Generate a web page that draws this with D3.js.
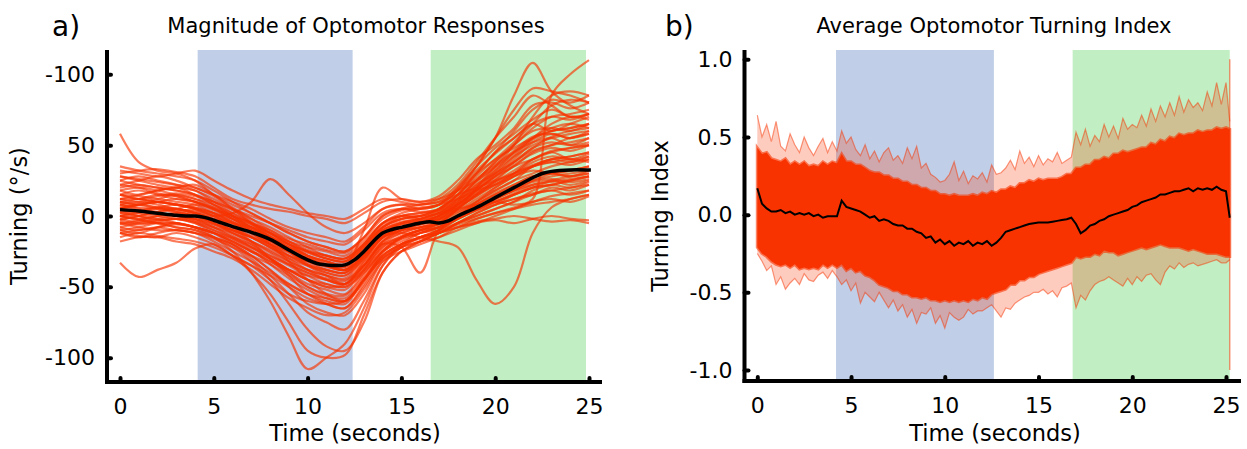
<!DOCTYPE html>
<html>
<head>
<meta charset="utf-8">
<script src="https://cdn.jsdelivr.net/npm/d3@7"></script>
<style>
  body { margin: 0; background: #fff; }
  text { font-family: "DejaVu Sans", sans-serif; }
</style>
</head>
<body>
<svg id="chart" width="1247" height="449"></svg>
<script>
// ---- shared ----
const timeTicks = [0, 5, 10, 15, 20, 25];
const stimulusColors = ["#c0cfe7", "#c1efc3"];   // rotation (blue), translation (green)

// ---- panel a: magnitude of optomotor responses (deg/s), sampled every second ----
const secondsA = [0,1,2,3,4,5,6,7,8,9,10,11,12,13,14,15,16,17,18,19,20,21,22,23,24,25];
const stimulusA = [[4.14, 12.4], [16.56, 24.84]];
const yTicksA = [100, 50, 0, -50, -100];
const yTickLabelsA = ["-100", "50", "0", "-50", "-100"];

const tracesA = [
  [30,32,33,31,28,20,12,8,5,3,0,-2,-5,2,10,12,10,14,25,40,50,62,78,80,76,80],
  [10,12,15,14,10,5,-2,-10,-18,-25,-30,-35,-38,-28,-15,-10,-8,-5,5,20,35,50,70,85,88,85],
  [-12,-14,-15,-12,-15,-20,-28,-40,-55,-75,-95,-100,-98,-70,-40,-25,-18,-12,-5,0,5,10,18,22,20,24],
  [5,3,2,0,-2,-8,-15,-22,-30,-38,-45,-50,-52,-38,-20,-12,-8,-5,2,10,18,25,35,40,38,42],
  [20,22,20,18,15,10,5,0,-5,-10,-15,-18,-20,-10,2,5,3,5,15,28,40,48,55,60,62,65],
  [-5,-8,-10,-10,-12,-18,-25,-32,-40,-48,-55,-60,-62,-45,-28,-20,-15,-10,-2,5,10,15,20,22,25,28],
  [15,14,12,10,8,2,-5,-12,-20,-28,-35,-40,-42,-30,-15,-8,-5,0,10,22,32,42,50,55,58,60],
  [0,2,5,3,0,-5,-12,-18,-25,-32,-38,-42,-45,-35,-20,-15,-10,-8,-2,5,12,18,22,25,22,25],
  [58,38,32,30,25,15,8,2,-5,-12,-18,-22,-25,-15,0,5,5,8,20,35,55,75,90,88,85,80],
  [-33,-43,-38,-33,-23,-20,-28,-35,-45,-55,-60,-62,-60,-45,-30,-22,-18,-15,-8,-5,0,5,10,12,10,14],
  [8,10,8,5,3,0,2,10,26,15,2,-8,-12,-5,5,8,8,10,15,20,25,30,35,38,36,40],
  [2,0,-2,-5,-8,-15,-25,-40,-60,-85,-108,-100,-90,-65,-35,-20,-15,-10,0,8,15,20,25,28,30,32],
  [25,28,25,22,18,12,5,-2,-8,-15,-22,-28,-30,-20,-5,0,0,2,12,25,38,50,62,70,72,75],
  [-10,-12,-8,-5,-8,-12,-18,-25,-32,-40,-48,-52,-55,-40,-25,-18,-12,-10,-5,0,5,10,15,18,15,18],
  [12,10,12,15,12,8,0,-8,-15,-22,-30,-35,-38,-25,-10,-5,-3,0,8,18,28,38,48,52,50,55],
  [-2,-5,-5,-8,-10,-15,-20,-28,-38,-50,-62,-68,-70,-55,-32,-22,-15,-12,-5,2,8,12,15,20,18,22],
  [32,30,28,30,32,25,18,12,8,5,2,0,-2,5,12,10,8,12,22,38,55,70,85,78,70,72],
  [5,8,10,8,5,0,-8,-18,-30,-42,-55,-62,-65,-50,-30,-20,-12,-8,0,10,20,28,35,40,42,45],
  [0,-2,0,2,0,-5,-10,-15,-22,-30,-35,-38,-40,-28,-15,-12,-15,-18,-22,-45,-62,-50,-12,6,12,15],
  [15,12,10,8,5,0,-5,-10,-15,-20,-25,-28,-30,-20,-8,-2,0,5,18,35,55,85,108,88,78,72],
  [10,8,6,5,2,-3,-8,-15,-22,-28,-32,-35,-36,-25,-10,-5,-2,2,5,8,10,8,12,85,100,110],
  [-15,-12,-14,-16,-18,-22,-28,-35,-42,-50,-58,-62,-65,-48,-28,-20,-15,-12,-8,-4,-2,0,-2,-4,-3,-5],
  [18,15,18,20,22,15,5,-5,-15,-25,-35,-42,-48,-35,-18,-10,-5,-2,8,20,32,45,55,65,70,68],
  [-8,-5,-3,-2,-5,-10,-15,-20,-28,-35,-42,-48,-50,-40,-25,-15,-10,-5,5,15,25,35,40,45,48,50],
  [22,25,28,25,20,15,10,5,-2,-8,-12,-15,-18,-8,5,8,5,8,18,30,45,55,65,60,65,70],
  [3,0,-3,-2,-5,-12,-20,-30,-42,-55,-68,-75,-80,-60,-35,-22,-15,-10,-2,5,12,18,25,30,32,35],
  [28,25,22,20,18,10,2,-5,-12,-20,-28,-32,-35,-22,-8,0,2,5,15,30,45,60,75,82,80,85],
  [-12,-15,-12,-10,-12,-15,-20,-28,-38,-48,-55,-58,-60,-45,-30,-22,-18,-12,-8,-2,2,5,8,10,12,15],
  [8,5,3,5,8,5,-2,-10,-20,-32,-45,-55,-60,-45,-25,-15,-10,-5,5,15,22,30,40,45,40,42],
  [0,-3,-5,-8,-10,-15,-22,-32,-45,-62,-80,-92,-95,-75,-40,-25,-18,-12,-5,2,8,15,20,25,28,30],
  [35,32,30,28,25,18,10,2,-5,-12,-18,-22,-25,-15,0,5,8,10,20,35,48,58,68,75,70,72],
  [-5,-3,0,2,0,-5,-10,-15,-20,-25,-30,-35,-38,-28,-15,-10,-8,-3,3,10,18,25,30,35,38,40],
  [15,18,15,12,10,5,0,-5,-10,-18,-25,-30,-32,-20,-5,0,-2,2,10,22,30,40,52,58,55,60],
  [-18,-15,-15,-18,-20,-25,-30,-38,-48,-58,-65,-70,-68,-52,-32,-25,-20,-15,-10,-5,-3,-5,-2,0,-2,-3],
  [6,4,2,0,-2,-6,-10,-15,-22,-30,-38,-45,-48,-32,-15,-8,-5,0,8,18,28,35,45,50,55,58],
  [12,15,18,20,15,8,2,-5,-12,-20,-25,-30,-32,-22,-8,-2,0,5,15,30,40,52,65,78,82,80],
  [25,22,20,18,15,8,0,-8,-15,-25,-32,-38,-40,-28,-12,-5,-2,3,12,25,38,50,60,62,60,65],
  [-3,0,3,5,2,-2,-5,-8,-12,-18,-22,-25,-28,-18,-5,2,5,8,12,18,22,28,32,30,28,30],
  [5,8,10,8,5,2,-2,-8,-15,-22,-28,-32,-35,-10,20,12,10,12,18,25,35,45,52,55,50,52],
  [0,-2,-5,-5,-8,-12,-18,-25,-32,-38,-42,-45,-48,-38,-22,-15,-10,-8,0,8,15,22,28,30,32,35],
  [-10,-8,-5,-5,-8,-12,-18,-25,-30,-38,-45,-50,-48,-35,-20,-22,-40,-10,0,5,10,15,20,22,25,28],
  [8,6,5,3,2,-2,-8,-14,-20,-26,-32,-36,-38,-28,-12,-6,-4,-2,6,14,22,30,38,42,40,44],
  [-6,-4,-2,0,-3,-8,-14,-22,-30,-38,-45,-48,-50,-38,-22,-14,-10,-6,0,8,16,22,28,30,28,32],
  [18,20,18,15,12,6,0,-6,-12,-18,-24,-28,-30,-20,-6,0,2,4,12,24,34,44,55,62,65,62],
  [2,4,6,5,2,-3,-10,-18,-26,-34,-40,-45,-48,-36,-18,-10,-6,-3,4,12,20,28,35,38,40,38],
  [-2,0,2,0,-4,-10,-16,-24,-34,-44,-52,-58,-60,-46,-26,-16,-12,-8,-2,4,10,16,22,24,26,28],
  [12,12,10,8,6,2,-4,-10,-16,-22,-28,-32,-34,-24,-10,-4,-2,2,10,20,30,38,46,50,52,55],
  [-8,-10,-8,-6,-8,-12,-16,-22,-28,-34,-40,-44,-46,-34,-18,-12,-8,-6,0,6,12,18,24,26,24,26],
  [22,20,16,14,10,4,-2,-8,-14,-20,-26,-30,-32,-22,-8,-2,0,4,14,26,36,46,56,58,55,58],
  [4,2,0,-2,-4,-8,-12,-18,-24,-32,-38,-42,-44,-32,-16,-10,-6,-2,6,14,24,32,40,46,48,50],
  [-4,-6,-4,-2,-2,-6,-12,-20,-30,-40,-50,-55,-56,-42,-24,-16,-12,-8,-2,4,8,12,16,18,20,22],
  [10,8,10,12,10,6,0,-6,-14,-24,-34,-40,-42,-30,-14,-8,-6,-2,6,16,26,36,44,48,46,50],
  [0,3,6,8,6,2,-4,-12,-20,-28,-34,-38,-40,-30,-15,-8,-5,0,8,18,28,38,48,56,60,62],
  [28,26,24,22,20,14,6,-2,-10,-16,-20,-24,-26,-16,-2,4,6,8,18,32,44,55,65,70,68,72],
  [-12,-10,-8,-10,-12,-16,-22,-28,-34,-42,-50,-56,-58,-44,-28,-20,-16,-12,-6,-2,2,6,10,14,16,18],
  [6,8,6,4,4,0,-6,-12,-18,-24,-30,-34,-36,-26,-12,-6,-4,0,8,16,24,30,36,40,42,45],
  [15,12,14,16,14,10,4,-4,-12,-20,-28,-34,-38,-28,-14,-8,-4,0,8,18,30,42,54,60,62,65]
];

const meanTimesA = [0,1,2,3,3.5,4,4.5,5,6,7,8,9,10,10.5,11,11.5,12,12.5,13,13.5,14,14.5,15,16,16.5,17,17.5,18,19,20,21,22,22.5,23,24,25,25.1];
const meanValuesA = [4.5,3.5,2,0.5,0,0,-1,-3,-7.5,-11.5,-16.5,-24,-31,-33.5,-34.5,-35,-34.5,-31,-25,-18,-12,-9.5,-8,-5,-4,-5,-3.5,0,6,13,20,27,30,31.5,32.5,32.5,32.5];

// ---- panel b: average optomotor turning index, sampled every 0.25 s (last sample 25.2 s) ----
const timesB = d3.range(0, 25.001, 0.25).concat([25.2]);
const stimulusB = [[4.2, 12.62], [16.82, 25.2]];
const yTicksB = [1, 0.5, 0, -0.5, -1];
const yTickLabelsB = ["1.0", "0.5", "0.0", "-0.5", "-1.0"];

// outer (sparse) envelope of the per-fly traces
const faintTopB = [
  0.64,0.50,0.58,0.47, 0.60,0.44,0.41,0.52, 0.45,0.40,0.50,0.43, 0.38,0.44,0.49,0.40,
  0.47,0.41,0.54,0.46, 0.50,0.42,0.38,0.45, 0.36,0.41,0.34,0.40, 0.43,0.35,0.38,0.33,
  0.43,0.36,0.44,0.30, 0.33,0.26,0.24,0.21, 0.22,0.26,0.34,0.22, 0.28,0.20,0.25,0.23,
  0.27,0.21,0.32,0.26, 0.27,0.30,0.35,0.29, 0.41,0.33,0.37,0.31, 0.38,0.32,0.36,0.34,
  0.40,0.33,0.35,0.37, 0.53,0.45,0.55,0.44, 0.51,0.47,0.58,0.50, 0.57,0.49,0.62,0.55,
  0.58,0.56,0.64,0.57, 0.68,0.60,0.70,0.63, 0.72,0.64,0.76,0.66, 0.74,0.69,0.72,0.67,
  0.79,0.70,0.85,0.71, 0.85,0.60
];
const faintBottomB = [
  -0.25,-0.30,-0.36,-0.33, -0.45,-0.40,-0.48,-0.44, -0.41,-0.45,-0.38,-0.42, -0.43,-0.39,-0.37,-0.41,
  -0.36,-0.40,-0.45,-0.42, -0.49,-0.44,-0.57,-0.50, -0.53,-0.56,-0.50,-0.55, -0.60,-0.55,-0.62,-0.58,
  -0.66,-0.61,-0.70,-0.63, -0.64,-0.60,-0.70,-0.65, -0.73,-0.63,-0.66,-0.68, -0.66,-0.61,-0.64,-0.62,
  -0.62,-0.60,-0.58,-0.62, -0.66,-0.60,-0.61,-0.57, -0.55,-0.53,-0.52,-0.50, -0.50,-0.48,-0.51,-0.49,
  -0.53,-0.47,-0.46,-0.44, -0.60,-0.52,-0.55,-0.49, -0.45,-0.43,-0.42,-0.40, -0.42,-0.44,-0.46,-0.41,
  -0.45,-0.40,-0.43,-0.39, -0.38,-0.42,-0.45,-0.37, -0.33,-0.35,-0.31,-0.34, -0.32,-0.31,-0.33,-0.32,
  -0.31,-0.30,-0.29,-0.31, -0.31,-0.29
];
// dense core where the traces overlap
const coreTopB = [
  0.43,0.39,0.40,0.36, 0.35,0.34,0.36,0.32, 0.34,0.32,0.34,0.31, 0.32,0.31,0.34,0.32,
  0.34,0.33,0.39,0.34, 0.34,0.32,0.32,0.30, 0.28,0.27,0.27,0.25, 0.25,0.23,0.23,0.21,
  0.21,0.19,0.19,0.17, 0.17,0.15,0.15,0.13, 0.13,0.12,0.13,0.12, 0.12,0.12,0.13,0.12,
  0.14,0.13,0.15,0.14, 0.16,0.16,0.18,0.17, 0.20,0.20,0.22,0.21, 0.23,0.22,0.23,0.23,
  0.23,0.24,0.26,0.26, 0.30,0.30,0.32,0.32, 0.35,0.35,0.37,0.36, 0.39,0.39,0.41,0.40,
  0.41,0.42,0.43,0.43, 0.46,0.45,0.48,0.47, 0.50,0.49,0.52,0.51, 0.52,0.52,0.54,0.53,
  0.54,0.54,0.56,0.55, 0.56,0.55
];
const coreBottomB = [
  -0.21,-0.25,-0.27,-0.30, -0.32,-0.33,-0.32,-0.34, -0.32,-0.35,-0.34,-0.35, -0.34,-0.35,-0.32,-0.34,
  -0.32,-0.34,-0.32,-0.36, -0.34,-0.37,-0.36,-0.39, -0.40,-0.42,-0.45,-0.46, -0.47,-0.49,-0.49,-0.51,
  -0.51,-0.53,-0.53,-0.54, -0.53,-0.55,-0.55,-0.56, -0.55,-0.56,-0.55,-0.56, -0.55,-0.56,-0.54,-0.55,
  -0.53,-0.54,-0.51,-0.50, -0.49,-0.48,-0.45,-0.45, -0.42,-0.42,-0.40,-0.40, -0.38,-0.37,-0.36,-0.35,
  -0.34,-0.33,-0.32,-0.31, -0.27,-0.28,-0.27,-0.27, -0.25,-0.26,-0.23,-0.24, -0.24,-0.26,-0.25,-0.24,
  -0.23,-0.22,-0.21,-0.22, -0.21,-0.20,-0.19,-0.20, -0.21,-0.21,-0.21,-0.22, -0.23,-0.22,-0.23,-0.24,
  -0.25,-0.25,-0.25,-0.26, -0.27,-0.27
];
const meanB = [
  0.17,0.07,0.04,0.02, 0.02,0.03,0.01,0.02, 0.00,0.01,0.00,0.01, -0.01,0.00,-0.02,-0.01,
  -0.01,-0.01,0.09,0.05, 0.04,0.03,0.02,0.00, -0.02,-0.01,-0.04,-0.03, -0.04,-0.06,-0.07,-0.07,
  -0.09,-0.09,-0.11,-0.12, -0.15,-0.14,-0.18,-0.16, -0.19,-0.17,-0.20,-0.18, -0.19,-0.17,-0.20,-0.18,
  -0.19,-0.17,-0.20,-0.18, -0.15,-0.11,-0.10,-0.09, -0.08,-0.07,-0.06,-0.055, -0.05,-0.05,-0.05,-0.045,
  -0.04,-0.035,-0.03,-0.02, -0.06,-0.12,-0.10,-0.07, -0.06,-0.04,-0.03,-0.01, 0.00,0.01,0.02,0.03,
  0.05,0.06,0.08,0.09, 0.10,0.11,0.13,0.13, 0.14,0.15,0.15,0.16, 0.17,0.15,0.17,0.16,
  0.17,0.16,0.18,0.16, 0.15,-0.02
];
// one trace ends with a full-range jump at the last sample
const endJumpTimeB = 25.2;
const endJumpValuesB = [1.0, -1.0];

// ---- drawing ----
const svg = d3.select("#chart");
const red = "#f83300";

const geoA = { xr: [120, 589], yr: [357.7, 74.3], axisX: 107, axisY: 382, top: 50, right: 602 };
const geoB = { xr: [757.3, 1226], yr: [370, 59.3], axisX: 744.5, axisY: 381, top: 50, right: 1241 };

const xA = d3.scaleLinear().domain([0, 25]).range(geoA.xr);
const yA = d3.scaleLinear().domain([-100, 100]).range(geoA.yr);
const xB = d3.scaleLinear().domain([0, 25]).range(geoB.xr);
const yB = d3.scaleLinear().domain([-1, 1]).range(geoB.yr);

function drawStimuli(g, x, geo, stim) {
  g.selectAll("rect.stim").data(stim).join("rect")
    .attr("class", "stim")
    .attr("x", d => x(d[0]))
    .attr("width", d => x(d[1]) - x(d[0]))
    .attr("y", geo.top)
    .attr("height", geo.axisY - geo.top)
    .attr("fill", (d, i) => stimulusColors[i]);
}

function drawAxes(g, x, y, geo, yTicks, yLabels) {
  g.append("line")
    .attr("x1", geo.axisX).attr("x2", geo.axisX)
    .attr("y1", geo.top).attr("y2", geo.axisY + 2)
    .attr("stroke", "#000").attr("stroke-width", 4);
  g.append("line")
    .attr("x1", geo.axisX - 2).attr("x2", geo.right)
    .attr("y1", geo.axisY).attr("y2", geo.axisY)
    .attr("stroke", "#000").attr("stroke-width", 4);

  const ya = g.append("g")
    .attr("transform", `translate(${geo.axisX},0)`)
    .call(d3.axisLeft(y).tickValues(yTicks).tickFormat((d, i) => yLabels[i]).tickSize(-4).tickPadding(12));
  const xa = g.append("g")
    .attr("transform", `translate(0,${geo.axisY})`)
    .call(d3.axisBottom(x).tickValues(timeTicks).tickSize(-4).tickPadding(16));

  [ya, xa].forEach(a => {
    a.select(".domain").remove();
    a.attr("font-size", 22).attr("font-family", "DejaVu Sans, sans-serif");
    a.selectAll(".tick line").attr("stroke-width", 4).attr("stroke-linecap", "round");
    a.selectAll(".tick text").attr("fill", "#000");
  });
}

function drawTexts(g, letter, letterX, title, titleX, yLabel, yLabelX, xLabelX) {
  g.append("text").attr("x", letterX).attr("y", 36).attr("font-size", 28).text(letter);
  g.append("text").attr("x", titleX).attr("y", 33).attr("text-anchor", "middle")
    .attr("font-size", 21).text(title);
  g.append("text").attr("transform", `translate(${yLabelX},216) rotate(-90)`)
    .attr("text-anchor", "middle").attr("font-size", 22.5).text(yLabel);
  g.append("text").attr("x", xLabelX).attr("y", 441).attr("text-anchor", "middle")
    .attr("font-size", 22.5).text("Time (seconds)");
}

// panel a
const gA = svg.append("g");
drawStimuli(gA, xA, geoA, stimulusA);

const lineA = d3.line().x((d, i) => xA(secondsA[i])).y(d => yA(d)).curve(d3.curveCatmullRom);
gA.selectAll("path.trace").data(tracesA).join("path")
  .attr("class", "trace")
  .attr("d", lineA)
  .attr("fill", "none")
  .attr("stroke", red)
  .attr("stroke-opacity", 0.65)
  .attr("stroke-width", 2.2);

const meanLineA = d3.line().x((d, i) => xA(meanTimesA[i])).y(d => yA(d)).curve(d3.curveCatmullRom);
gA.append("path").datum(meanValuesA)
  .attr("d", meanLineA)
  .attr("fill", "none").attr("stroke", "#000").attr("stroke-width", 3.5);

drawAxes(gA, xA, yA, geoA, yTicksA, yTickLabelsA);
drawTexts(gA, "a)", 52, "Magnitude of Optomotor Responses", 356, "Turning (°/s)", 27, 355);

// panel b
const gB = svg.append("g");
drawStimuli(gB, xB, geoB, stimulusB);

const bandB = (top, bottom) => d3.area()
  .x((d, i) => xB(timesB[i]))
  .y0((d, i) => yB(bottom[i]))
  .y1((d, i) => yB(top[i]));
const edgeB = vals => d3.line().x((d, i) => xB(timesB[i])).y((d, i) => yB(vals[i]));

gB.append("path").datum(timesB)
  .attr("d", bandB(faintTopB, faintBottomB))
  .attr("fill", red).attr("fill-opacity", 0.25);
[faintTopB, faintBottomB].forEach(vals => {
  gB.append("path").datum(timesB)
    .attr("d", edgeB(vals))
    .attr("fill", "none").attr("stroke", red)
    .attr("stroke-opacity", 0.5).attr("stroke-width", 1.2);
});
gB.append("path").datum(timesB)
  .attr("d", bandB(coreTopB, coreBottomB))
  .attr("fill", red)
  .attr("stroke", red).attr("stroke-opacity", 0.6).attr("stroke-width", 3);

gB.append("line")
  .attr("x1", xB(endJumpTimeB)).attr("x2", xB(endJumpTimeB))
  .attr("y1", yB(endJumpValuesB[0])).attr("y2", yB(endJumpValuesB[1]))
  .attr("stroke", red).attr("stroke-opacity", 0.5).attr("stroke-width", 1.5);

const meanLineB = d3.line().x((d, i) => xB(timesB[i])).y(d => yB(d));
gB.append("path").datum(meanB)
  .attr("d", meanLineB)
  .attr("fill", "none").attr("stroke", "#000").attr("stroke-width", 2);

drawAxes(gB, xB, yB, geoB, yTicksB, yTickLabelsB);
drawTexts(gB, "b)", 665, "Average Optomotor Turning Index", 994, "Turning Index", 668, 995);
</script>
</body>
</html>
